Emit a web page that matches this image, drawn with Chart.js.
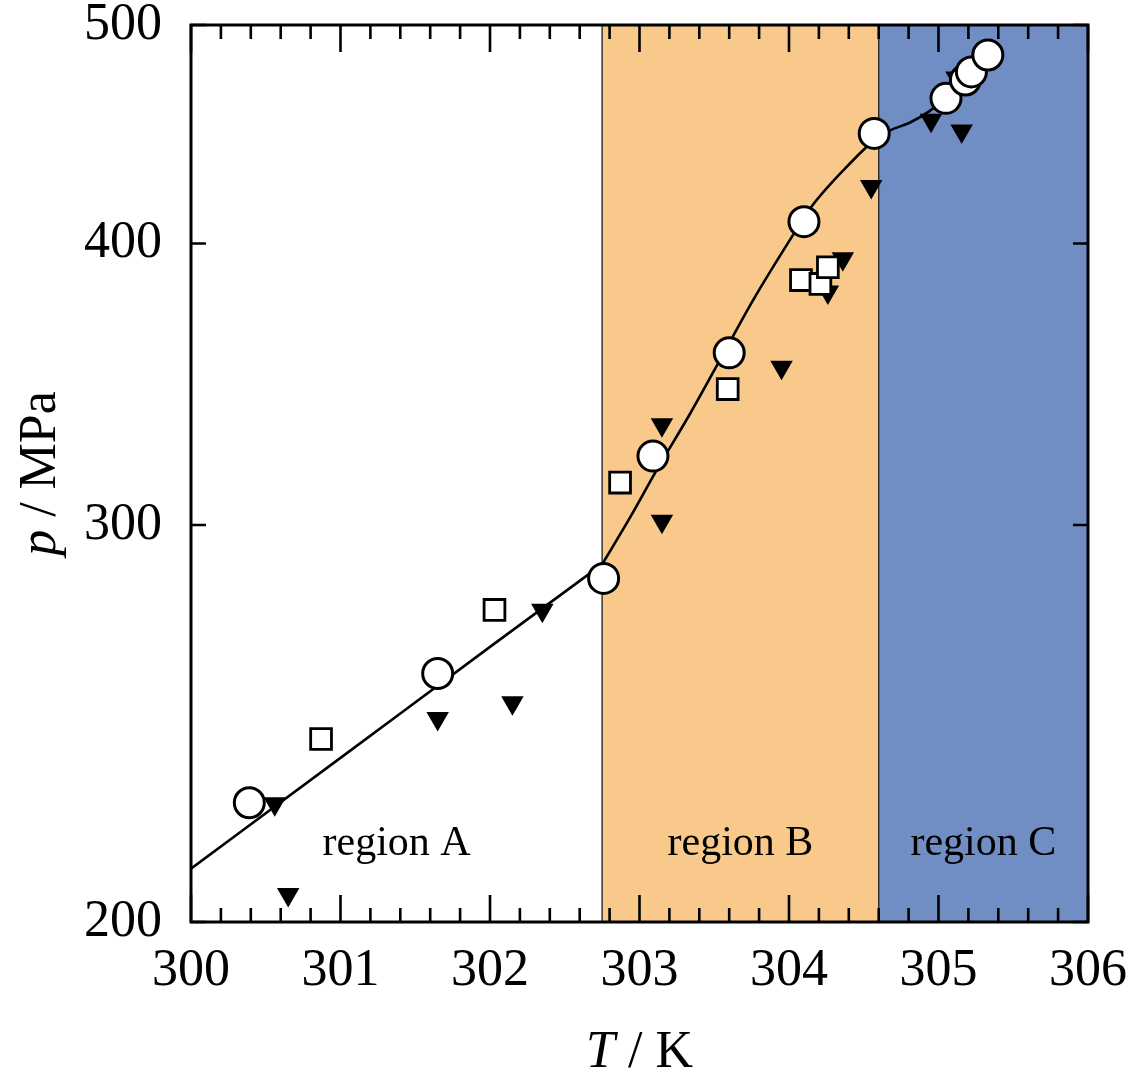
<!DOCTYPE html>
<html>
<head>
<meta charset="utf-8">
<title>p(T)</title>
<script src="https://cdn.jsdelivr.net/npm/chart.js@4.4.1/dist/chart.umd.min.js"></script>
<style>
  html, body { margin: 0; padding: 0; background: #fff; }
  canvas { display: block; }
</style>
</head>
<body>
<canvas id="ptChart" width="1136" height="1074"></canvas>
<script>
// Measured p (MPa) against T (K)
const circleT = [300.39, 301.65, 302.76, 303.09, 303.60, 304.10, 304.57, 305.05, 305.18, 305.22, 305.33];
const circleP = [225.9, 257.8, 284.1, 321.9, 357.7, 409.0, 447.6, 463.9, 472.7, 476.6, 484.9];

const squareT = [300.87, 302.03, 302.87, 303.59, 304.08, 304.21, 304.26];
const squareP = [241.1, 275.1, 313.3, 344.7, 385.3, 383.8, 390.4];

const triangleT = [300.56, 300.65, 301.65, 302.15, 302.35, 303.15, 303.15, 303.95, 304.26, 304.36, 304.55, 304.95, 305.12, 305.155];
const triangleP = [225.7, 205.7, 246.2, 250.2, 275.0, 332.4, 301.2, 352.5, 380.6, 393.8, 424.0, 453.6, 473.6, 448.7];

// Fitted curve, one piece per region
const fitAT = [300.00, 301.00, 302.00, 302.75];
const fitAP = [211.2, 236.5, 264.9, 288.2];
const fitBT = [302.75, 302.94, 303.11, 303.34, 303.52, 303.76, 304.02, 304.15, 304.43, 304.57];
const fitBP = [288.2, 302.6, 316.9, 336.3, 353.3, 377.5, 402.8, 415.3, 435.6, 444.8];
const fitCT = [304.57, 304.68, 304.81, 304.94, 305.05];
const fitCP = [444.8, 449.1, 452.6, 457.9, 464.0];

// Regions
const regionEdges = [300, 302.75, 304.6, 306];
const regionNames = ['region A', 'region B', 'region C'];
const regionColors = ['#ffffff', '#F8C98B', '#718EC4'];

// Axes
const xTickLabels = [300, 301, 302, 303, 304, 305, 306];
const xMinorPerUnit = 5;
const yTickLabels = [200, 300, 400, 500];

const FONT = "'Liberation Serif', 'Times New Roman', serif";

function toPoints(xs, ys) {
    return xs.map((x, i) => ({ x: x, y: ys[i] }));
}

function isWhole(v) {
    return Math.abs(v - Math.round(v)) < 1e-6;
}

// Shaded regions and their names, under the data
const regionPlugin = {
    id: 'regions',
    beforeDatasetsDraw(chart) {
        const { ctx, chartArea: a, scales: { x } } = chart;
        ctx.save();
        for (let i = 0; i < regionNames.length; i++) {
            const x0 = x.getPixelForValue(regionEdges[i]);
            const x1 = x.getPixelForValue(regionEdges[i + 1]);
            ctx.fillStyle = regionColors[i];
            ctx.fillRect(x0, a.top, x1 - x0, a.bottom - a.top);
            if (i > 0) {
                ctx.strokeStyle = '#2a2a2a';
                ctx.lineWidth = 1.4;
                ctx.beginPath();
                ctx.moveTo(x0, a.top);
                ctx.lineTo(x0, a.bottom);
                ctx.stroke();
            }
        }
        ctx.fillStyle = '#000';
        ctx.font = '42px ' + FONT;
        ctx.textAlign = 'center';
        ctx.textBaseline = 'alphabetic';
        for (let i = 0; i < regionNames.length; i++) {
            const xc = x.getPixelForValue((regionEdges[i] + regionEdges[i + 1]) / 2);
            ctx.fillText(regionNames[i], xc, a.bottom - 67);
        }
        ctx.restore();
    }
};

// Frame with inward ticks on all four sides, plus axis titles
const framePlugin = {
    id: 'frame',
    afterDatasetsDraw(chart) {
        const { ctx, chartArea: a, scales: { x, y } } = chart;
        ctx.save();
        ctx.strokeStyle = '#000';
        ctx.lineWidth = 2.6;
        ctx.beginPath();
        x.ticks.forEach(t => {
            const px = x.getPixelForValue(t.value);
            const len = isWhole(t.value) ? 27 : 14;
            ctx.moveTo(px, a.bottom);
            ctx.lineTo(px, a.bottom - len);
            ctx.moveTo(px, a.top);
            ctx.lineTo(px, a.top + len);
        });
        y.ticks.forEach(t => {
            const py = y.getPixelForValue(t.value);
            ctx.moveTo(a.left, py);
            ctx.lineTo(a.left + 15, py);
            ctx.moveTo(a.right, py);
            ctx.lineTo(a.right - 15, py);
        });
        ctx.stroke();
        ctx.lineWidth = 3;
        ctx.strokeRect(a.left, a.top, a.right - a.left, a.bottom - a.top);
        ctx.restore();
    },
    afterDraw(chart) {
        const { ctx, chartArea: a } = chart;
        ctx.save();
        ctx.fillStyle = '#000';
        ctx.textBaseline = 'alphabetic';
        ctx.textAlign = 'left';

        // T / K
        ctx.font = 'italic 52px ' + FONT;
        const wT = ctx.measureText('T').width;
        ctx.font = '52px ' + FONT;
        const wK = ctx.measureText(' / K').width;
        let x0 = (a.left + a.right) / 2 - (wT + wK) / 2;
        ctx.font = 'italic 52px ' + FONT;
        ctx.fillText('T', x0, 1067);
        ctx.font = '52px ' + FONT;
        ctx.fillText(' / K', x0 + wT, 1067);

        // p / MPa, rotated
        ctx.translate(55, (a.top + a.bottom) / 2);
        ctx.rotate(-Math.PI / 2);
        ctx.font = 'italic 52px ' + FONT;
        const wp = ctx.measureText('p').width;
        ctx.font = '52px ' + FONT;
        const wM = ctx.measureText(' / MPa').width;
        x0 = -(wp + wM) / 2;
        ctx.font = 'italic 52px ' + FONT;
        ctx.fillText('p', x0, 0);
        ctx.font = '52px ' + FONT;
        ctx.fillText(' / MPa', x0 + wp, 0);
        ctx.restore();
    }
};

const fitStyle = {
    showLine: true,
    borderColor: '#000',
    borderWidth: 2.6,
    pointRadius: 0,
    fill: false,
    cubicInterpolationMode: 'monotone'
};

new Chart(document.getElementById('ptChart'), {
    type: 'scatter',
    data: {
        datasets: [
            {
                label: 'circles',
                data: toPoints(circleT, circleP),
                pointStyle: 'circle',
                pointRadius: 15,
                backgroundColor: '#fff',
                borderColor: '#000',
                borderWidth: 3
            },
            {
                label: 'squares',
                data: toPoints(squareT, squareP),
                pointStyle: 'rect',
                pointRadius: 14.7,
                backgroundColor: '#fff',
                borderColor: '#000',
                borderWidth: 2.8
            },
            {
                label: 'triangles',
                data: toPoints(triangleT, triangleP),
                pointStyle: 'triangle',
                rotation: 180,
                pointRadius: 13,
                backgroundColor: '#000',
                borderColor: '#000',
                borderWidth: 0
            },
            Object.assign({ label: 'fit A', data: toPoints(fitAT, fitAP) }, fitStyle),
            Object.assign({ label: 'fit B', data: toPoints(fitBT, fitBP) }, fitStyle),
            Object.assign({ label: 'fit C', data: toPoints(fitCT, fitCP) }, fitStyle)
        ]
    },
    options: {
        responsive: false,
        animation: false,
        events: [],
        layout: { padding: { top: 25, right: 48, left: 0, bottom: 0 } },
        plugins: {
            legend: { display: false },
            tooltip: { enabled: false }
        },
        scales: {
            x: {
                type: 'linear',
                min: xTickLabels[0],
                max: xTickLabels[xTickLabels.length - 1],
                grid: { display: false, drawTicks: false },
                border: { display: false },
                afterBuildTicks: scale => {
                    const ticks = [];
                    for (let i = 0; i < xTickLabels.length; i++) {
                        ticks.push({ value: xTickLabels[i] });
                        if (i < xTickLabels.length - 1) {
                            for (let k = 1; k < xMinorPerUnit; k++) {
                                ticks.push({ value: xTickLabels[i] + k / xMinorPerUnit });
                            }
                        }
                    }
                    scale.ticks = ticks;
                },
                afterFit: scale => {
                    scale.height = 152;
                    scale.paddingLeft = 0;
                    scale.paddingRight = 0;
                },
                ticks: {
                    autoSkip: false,
                    maxRotation: 0,
                    padding: 18,
                    color: '#000',
                    font: { family: FONT, size: 52 },
                    callback: v => isWhole(v) ? String(Math.round(v)) : ''
                }
            },
            y: {
                type: 'logarithmic',
                min: yTickLabels[0],
                max: yTickLabels[yTickLabels.length - 1],
                grid: { display: false, drawTicks: false },
                border: { display: false },
                afterBuildTicks: scale => {
                    scale.ticks = yTickLabels.map(v => ({ value: v }));
                },
                afterFit: scale => {
                    scale.width = 191;
                    scale.paddingTop = 0;
                    scale.paddingBottom = 0;
                },
                ticks: {
                    padding: 29,
                    color: '#000',
                    font: { family: FONT, size: 52 },
                    callback: v => String(v)
                }
            }
        }
    },
    plugins: [regionPlugin, framePlugin]
});
</script>
</body>
</html>
